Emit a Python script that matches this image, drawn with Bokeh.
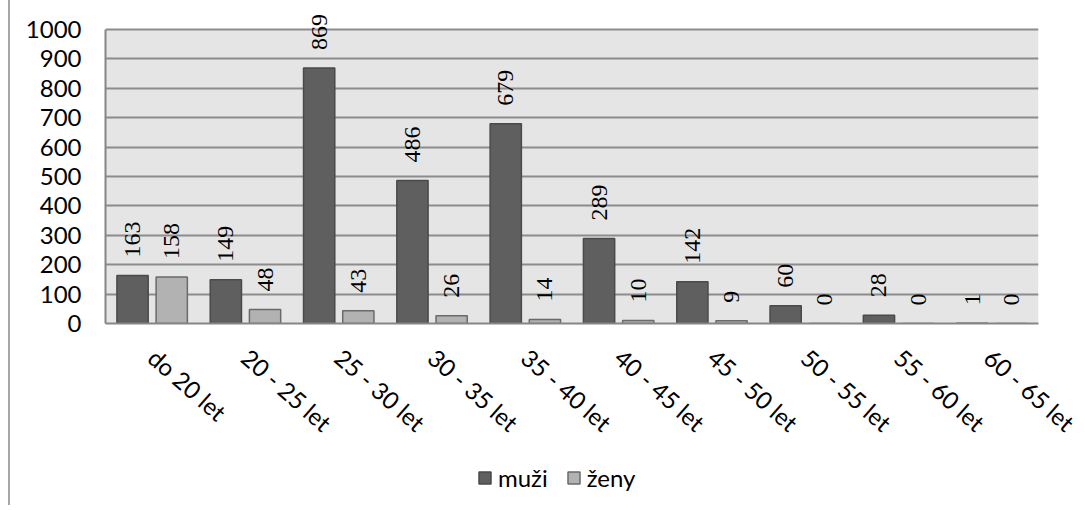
from bokeh.plotting import figure
from bokeh.layouts import column
from bokeh.models import (ColumnDataSource, FactorRange, FixedTicker, LabelSet,
                          Legend, LegendItem, BoxAnnotation)
from bokeh.transform import dodge
from bokeh.embed import file_html
from bokeh.resources import INLINE

categories = ["do 20 let", "20 - 25 let", "25 - 30 let", "30 - 35 let", "35 - 40 let",
              "40 - 45 let", "45 - 50 let", "50 - 55 let", "55 - 60 let", "60 - 65 let"]
muzi = [163, 149, 869, 486, 679, 289, 142, 60, 28, 1]
zeny = [158, 48, 43, 26, 14, 10, 9, 0, 0, 0]
y_ticks = [0, 100, 200, 300, 400, 500, 600, 700, 800, 900, 1000]
series_names = ["muži", "ženy"]

FONT = "Lato"
FS = "24px"
MUZI_FILL, MUZI_LINE = "#5f5f5f", "#4a4a4a"
ZENY_FILL, ZENY_LINE = "#b2b2b2", "#6a6a6a"
Y_MAX = y_ticks[-1]

src = ColumnDataSource(dict(cat=categories, muzi=muzi, zeny=zeny,
                            muzi_t=[str(v) for v in muzi],
                            zeny_t=[str(v) for v in zeny]))

# frame reaches above the 1000 line so that the top value labels are not clipped
p = figure(x_range=FactorRange(*categories), y_range=(0, 1078),
           width=1080, height=460, output_backend="svg", toolbar_location=None,
           min_border_left=105, min_border_right=42, min_border_top=6,
           min_border_bottom=137)
p.background_fill_color = None
p.border_fill_alpha = 0
p.outline_line_color = None
p.add_layout(BoxAnnotation(bottom=0, top=Y_MAX, fill_color="#e5e5e5", fill_alpha=1,
                           line_color=None, level="image"))

p.vbar(x=dodge("cat", -0.21, range=p.x_range), top="muzi", width=0.335,
       source=src, fill_color=MUZI_FILL, line_color=MUZI_LINE, line_width=1.5)
p.vbar(x=dodge("cat", 0.21, range=p.x_range), top="zeny", width=0.335,
       source=src, fill_color=ZENY_FILL, line_color=ZENY_LINE, line_width=1.5)

for col, off in (("muzi", -0.21), ("zeny", 0.21)):
    ls = LabelSet(x=dodge("cat", off, range=p.x_range), y=col, text=col + "_t",
                  source=src, angle=1.5708, text_align="left", text_baseline="middle",
                  y_offset=18, text_font=FONT, text_font_size=FS,
                  text_color="black")
    p.add_layout(ls)

p.xgrid.grid_line_color = None
p.ygrid.grid_line_color = "#8c8c8c"
p.ygrid.grid_line_width = 2
p.yaxis.ticker = FixedTicker(ticks=y_ticks)
p.yaxis.bounds = (0, Y_MAX)

for ax in (p.xaxis, p.yaxis):
    ax.axis_line_color = "#868686"
    ax.axis_line_width = 2
    ax.major_tick_line_color = None
    ax.minor_tick_line_color = None
    ax.major_tick_out = 0
    ax.major_tick_in = 0
    ax.major_label_text_font = FONT
    ax.major_label_text_font_size = FS
    ax.major_label_text_color = "black"

p.yaxis.major_label_standoff = 24
p.xaxis.major_label_orientation = -0.72
p.xaxis.major_label_standoff = 30

# legend strip
pl = figure(width=1080, height=45, x_range=(0, 1), y_range=(0, 1),
            output_backend="svg", toolbar_location=None,
            min_border_left=0, min_border_right=0, min_border_top=0,
            min_border_bottom=0, x_axis_type=None, y_axis_type=None)
pl.grid.visible = False
pl.outline_line_color = None
pl.background_fill_alpha = 0
pl.border_fill_alpha = 0
key_src = ColumnDataSource(dict(x=[0.5], top=[0.5]))
l1 = pl.vbar(x="x", top="top", width=0.1, source=key_src,
             fill_color=MUZI_FILL, line_color=MUZI_LINE, line_width=1.5)
l2 = pl.vbar(x="x", top="top", width=0.1, source=key_src,
             fill_color=ZENY_FILL, line_color=ZENY_LINE, line_width=1.5)
l1.visible = False
l2.visible = False
legend = Legend(items=[LegendItem(label=series_names[0], renderers=[l1]),
                       LegendItem(label=series_names[1], renderers=[l2])],
                orientation="horizontal", location=(372, 13), margin=0, padding=0,
                spacing=18, label_standoff=6, glyph_width=15, glyph_height=15,
                label_text_font=FONT, label_text_font_size=FS,
                label_text_color="black", border_line_color=None,
                background_fill_alpha=0, click_policy="none",
                inactive_fill_alpha=0)
pl.add_layout(legend, "center")

layout = column(p, pl, spacing=0)
layout.styles = {"background": "linear-gradient(to right, white 8px, #a6a6a6 8px, "
                               "#a6a6a6 10px, white 10px)"}

open("out.html", "w").write(file_html(layout, INLINE))
